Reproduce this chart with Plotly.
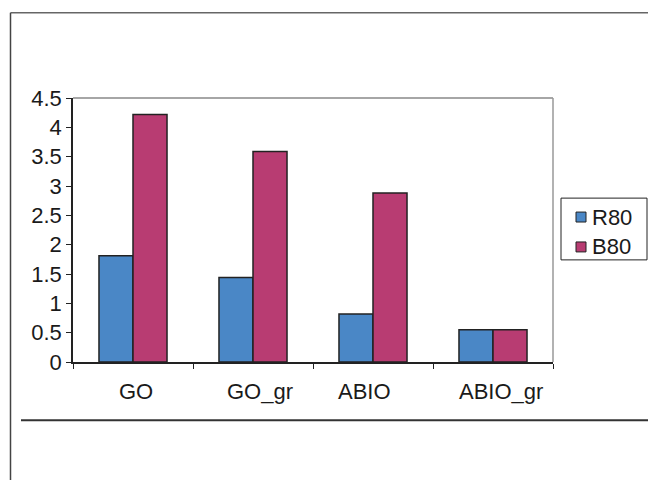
import plotly.graph_objects as go

categories = ["GO", "GO_gr", "ABIO", "ABIO_gr"]
series_names = ["R80", "B80"]
r80 = [1.81, 1.44, 0.82, 0.55]
b80 = [4.22, 3.59, 2.88, 0.55]
y_ticks = [0, 0.5, 1, 1.5, 2, 2.5, 3, 3.5, 4, 4.5]
y_tick_text = ["0", "0.5", "1", "1.5", "2", "2.5", "3", "3.5", "4", "4.5"]
# category label positions in axis units (labels sit slightly off-centre)
label_pos = [0.025, 1.058, 1.925, 3.067]

FONT = "Liberation Sans, Arial, sans-serif"
FS = 22
TXT = "#1a1a1a"
COLORS = ["#4A87C6", "#B83C72"]
W, H = 648, 480
L, R, T, B = 73, 553, 97.5, 362.5


def px(xp):
    return (xp - L) / (R - L)


def py(yp):
    return (B - yp) / (B - T)


fig = go.Figure()
for name, vals, col in zip(series_names, [r80, b80], COLORS):
    fig.add_trace(go.Bar(name=name, x=categories, y=vals, showlegend=False,
                         marker=dict(color=col, line=dict(color="#222222", width=1.5))))

shapes = [
    # outer frame: top, left, and bottom separator
    dict(type="line", xref="paper", yref="paper", x0=px(10.5), x1=px(649), y0=py(12), y1=py(12),
         line=dict(color="#666666", width=1.5)),
    dict(type="line", xref="paper", yref="paper", x0=px(10.5), x1=px(10.5), y0=py(12), y1=py(481),
         line=dict(color="#444444", width=1.5)),
    dict(type="line", xref="paper", yref="paper", x0=px(21), x1=px(649), y0=py(421), y1=py(421),
         line=dict(color="#333333", width=2)),
    # plot area border on top and right
    dict(type="line", xref="paper", yref="paper", x0=0, x1=1, y0=1, y1=1,
         line=dict(color="#888888", width=1.5)),
    dict(type="line", xref="paper", yref="paper", x0=1, x1=1, y0=0, y1=1,
         line=dict(color="#999999", width=1.5)),
    # legend box
    dict(type="rect", xref="paper", yref="paper", x0=px(561), x1=px(647), y0=py(198), y1=py(260),
         line=dict(color="#222222", width=1), fillcolor="white"),
]

annotations = [
    dict(x=p, y=py(392), xref="x", yref="paper", text=c, showarrow=False,
         xanchor="center", yanchor="middle", font=dict(family=FONT, size=FS, color=TXT))
    for c, p in zip(categories, label_pos)
]

# legend entries: small outlined square swatch followed by the series name
for i, (name, col) in enumerate(zip(series_names, COLORS)):
    cy = 217 + i * 30
    shapes.append(dict(type="rect", xref="paper", yref="paper",
                       x0=px(576), x1=px(586), y0=py(cy - 5), y1=py(cy + 5),
                       line=dict(color="#222222", width=1), fillcolor=col))
    annotations.append(dict(x=px(590), y=py(cy), xref="paper", yref="paper", text=name,
                            showarrow=False, xanchor="left", yanchor="middle",
                            font=dict(family=FONT, size=FS, color=TXT)))

fig.update_layout(
    width=W, height=H,
    margin=dict(l=L, r=W - R, t=T, b=H - B, pad=0),
    paper_bgcolor="white", plot_bgcolor="white",
    barmode="group", bargap=0.433, bargroupgap=0,
    showlegend=False,
    xaxis=dict(range=[-0.5, 3.5], showticklabels=False, tickson="boundaries",
               ticks="outside", ticklen=5, tickcolor="#222222", tickwidth=1,
               showline=True, linecolor="#222222", linewidth=1.5,
               showgrid=False, zeroline=False, fixedrange=True),
    yaxis=dict(range=[0, 4.5], tickvals=y_ticks, ticktext=y_tick_text,
               ticks="outside", ticklen=5, tickcolor="#222222", tickwidth=1,
               showline=True, linecolor="#222222", linewidth=1.5,
               showgrid=False, zeroline=False,
               tickfont=dict(family=FONT, size=FS, color=TXT)),
    shapes=shapes,
    annotations=annotations,
)

fig.write_html("out.html")
